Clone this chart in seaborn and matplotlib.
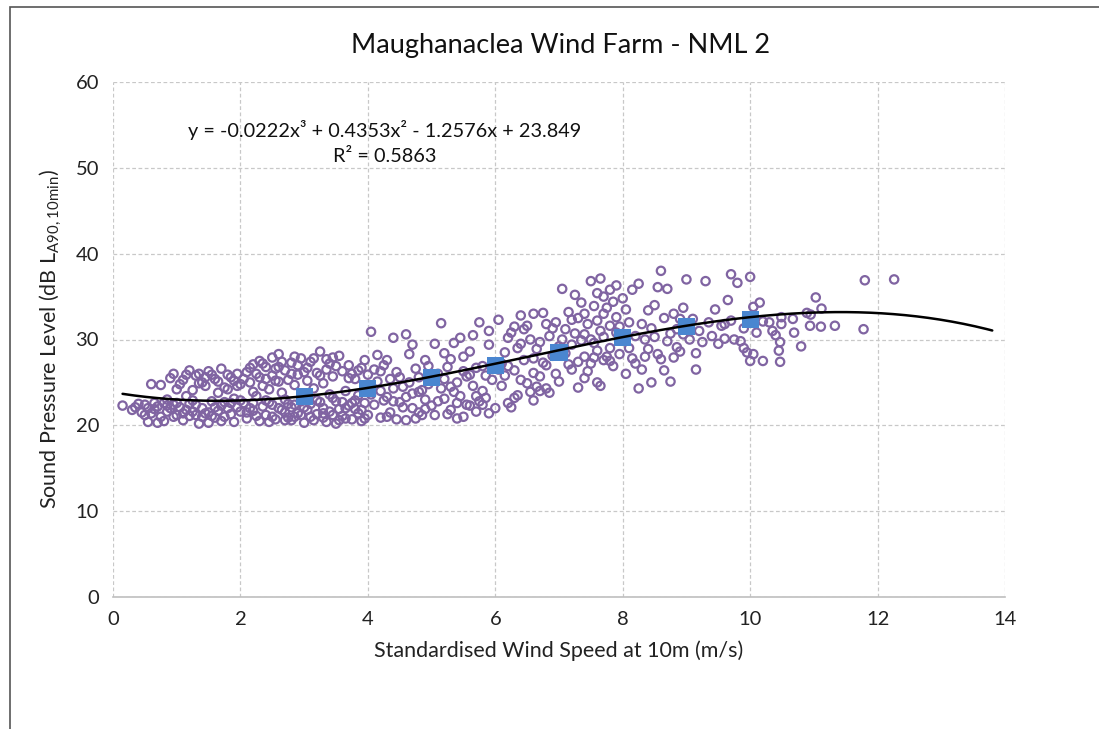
import numpy as np
import pandas as pd
import matplotlib
matplotlib.use("Agg")
import matplotlib.pyplot as plt
import seaborn as sns
from matplotlib.patches import Rectangle

# ---------------- data ----------------
band_a = [(0.15,22.3),(0.3,21.8),(0.35,22.1),(0.45,21.5),(0.5,22.4),(0.55,20.4),(0.6,24.8),(0.65,21.9),
          (0.7,22.2),(0.75,24.7),(0.8,20.5),(0.85,21.6),(0.9,22.0),(0.9,25.5),(0.95,26.0),(1.0,21.2),
          (0.7,20.3),(0.4,22.5),(0.55,22.0),(0.8,22.6),(0.95,21.0),(0.6,21.4),(1.0,24.2),(0.85,23.0)]
band_b = [(1.05,22.1),(1.1,25.3),(1.1,20.6),(1.15,21.8),(1.2,26.4),(1.2,22.5),(1.25,24.1),(1.3,25.8),
          (1.3,21.2),(1.35,20.2),(1.4,25.0),(1.4,22.0),(1.45,24.6),(1.5,26.3),(1.5,21.5),(1.55,22.8),
          (1.6,25.4),(1.6,20.9),(1.65,23.8),(1.7,26.6),(1.7,22.3),(1.75,21.0),(1.8,24.2),(1.8,22.0),
          (1.85,25.6),(1.9,20.4),(1.9,23.1),(1.95,26.0),(2.0,21.6),(2.0,24.8),(1.15,23.4),(1.25,22.9),
          (1.35,24.9),(1.45,21.4),(1.55,25.9),(1.65,21.7),(1.75,24.4),(1.85,22.6),(1.95,22.1),(1.05,24.8),
          (1.5,20.3),(1.3,22.4),(1.7,20.5),(1.9,25.2)]
band_c = [(2.05,22.6),(2.1,26.2),(2.1,20.8),(2.15,25.0),(2.2,21.7),(2.2,27.1),(2.25,23.4),(2.3,20.5),
          (2.3,25.6),(2.35,22.2),(2.4,26.8),(2.4,21.2),(2.45,24.2),(2.5,27.9),(2.5,22.4),(2.55,20.7),
          (2.6,28.3),(2.6,25.1),(2.65,21.8),(2.7,26.4),(2.7,23.0),(2.75,20.9),(2.8,27.3),(2.8,22.1),
          (2.85,24.7),(2.9,25.9),(2.9,21.4),(2.95,27.8),(2.95,22.8),(3.0,20.3),(3.0,26.2),(2.15,22.0),
          (2.25,26.0),(2.35,24.6),(2.45,20.4),(2.55,26.6),(2.65,23.8),(2.75,25.3),(2.85,21.0),(2.05,25.4),
          (2.2,23.9),(2.4,22.9),(2.6,22.0),(2.8,20.6),(2.5,25.8),(2.7,21.5),(2.9,27.0),(2.3,27.5)]
band_d = [(3.05,21.8),(3.1,27.4),(3.1,22.5),(3.15,20.6),(3.2,26.1),(3.2,21.3),(3.25,28.6),(3.3,24.9),
          (3.3,22.0),(3.35,20.4),(3.4,27.2),(3.4,21.6),(3.45,25.7),(3.5,22.8),(3.5,20.2),(3.55,28.1),
          (3.6,26.3),(3.6,21.1),(3.65,24.0),(3.7,22.3),(3.7,27.0),(3.75,20.7),(3.8,25.4),(3.8,21.9),
          (3.85,23.5),(3.9,26.7),(3.9,20.5),(3.95,22.6),(4.0,25.9),(4.0,21.2),(3.15,24.3),(3.25,22.7),
          (3.35,26.5),(3.45,23.2),(3.55,21.9),(3.65,20.8),(3.75,26.0),(3.85,21.4),(3.95,27.6),(3.05,25.2),
          (3.3,20.9),(3.6,22.7),(3.8,22.9),(3.4,23.6)]
band_low_extra = [(0.5,21.2),(0.65,22.6),(0.75,21.0),(0.85,22.3),(1.0,22.6),(1.1,21.4),(1.15,25.9),
                  (1.25,21.6),(1.35,26.0),(1.4,21.0),(1.45,25.6),(1.55,21.1),(1.6,22.1),(1.65,25.1),
                  (1.75,22.7),(1.8,25.9),(1.85,21.3),(1.95,24.6),(2.0,22.9),(2.1,21.5),(2.15,26.7),
                  (2.25,21.1),(2.35,27.2),(2.45,22.7),(2.5,21.0),(2.55,25.2),(2.65,27.4),(2.7,20.6),
                  (2.75,22.5),(2.8,26.0),(2.85,22.4),(2.95,21.2),(3.0,22.1),(3.05,26.7),(3.1,21.0),
                  (3.2,22.9),(3.25,25.8),(3.3,21.4),(3.35,27.7),(3.45,21.2),(3.5,26.9),(3.55,20.6),
                  (3.65,22.0),(3.7,25.5),(3.75,22.6),(3.85,26.4),(3.9,21.8),(3.95,20.8),(2.6,26.8),
                  (2.4,25.4),(2.2,22.6),(1.2,21.1),(0.95,22.4),(3.15,27.8),(3.45,27.9),(2.85,28.0)]
band_e = [(4.05,30.9),(4.1,22.4),(4.15,25.1),(4.2,20.9),(4.25,27.0),(4.3,23.3),(4.35,21.5),(4.4,30.2),
          (4.45,26.2),(4.5,22.7),(4.55,24.5),(4.6,30.6),(4.6,20.6),(4.65,28.3),(4.7,22.0),(4.75,26.6),
          (4.8,23.9),(4.85,21.2),(4.9,27.6),(4.95,24.8),(5.0,22.3),(4.1,26.5),(4.2,24.0),(4.3,21.0),
          (4.4,22.8),(4.5,25.6),(4.7,29.4),(4.8,21.5),(4.9,23.0),(4.15,28.2),(4.35,25.4),(4.55,22.1),
          (4.75,20.8),(4.95,26.9),(4.45,20.7),(4.65,25.0),(4.85,24.1),(4.25,22.9),(4.05,23.6),
          (4.2,26.3),(4.4,24.3),(4.6,23.3),(4.8,25.6),(4.3,27.6),(4.7,23.7),(4.9,21.9)]
band_f = [(5.05,29.5),(5.1,22.8),(5.15,31.9),(5.2,25.4),(5.25,21.3),(5.3,27.7),(5.35,23.9),(5.4,20.8),
          (5.45,30.2),(5.5,26.3),(5.55,22.4),(5.6,28.6),(5.65,24.6),(5.7,21.6),(5.75,32.0),(5.8,26.9),
          (5.85,23.2),(5.9,29.4),(5.95,25.3),(6.0,22.0),(5.1,26.0),(5.2,23.1),(5.3,21.8),(5.4,25.0),
          (5.5,28.0),(5.6,22.3),(5.7,26.7),(5.8,24.0),(5.9,21.4),(5.15,24.3),(5.35,29.6),(5.55,25.7),
          (5.75,22.8),(5.95,27.2),(5.25,26.8),(5.45,23.4),(5.65,30.5),(5.85,25.8),(5.05,21.2),(5.5,21.0),
          (5.9,31.0),(5.2,28.4),(5.4,22.6),(5.6,25.9),(5.8,22.4),(5.3,24.5),(5.7,23.4)]
band_g = [(6.05,32.3),(6.1,24.6),(6.15,28.5),(6.2,22.6),(6.25,30.8),(6.3,26.4),(6.35,23.5),(6.4,32.8),
          (6.45,27.6),(6.5,24.9),(6.55,30.0),(6.6,22.9),(6.65,28.9),(6.7,25.7),(6.75,33.1),(6.8,27.0),
          (6.85,23.8),(6.9,31.3),(6.95,26.0),(7.0,29.2),(6.1,27.2),(6.2,30.2),(6.3,23.2),(6.4,25.3),
          (6.5,31.6),(6.6,26.1),(6.7,29.7),(6.8,24.3),(6.9,28.1),(6.15,25.8),(6.35,29.0),(6.55,23.9),
          (6.75,27.3),(6.95,32.0),(6.25,22.1),(6.45,31.2),(6.65,24.5),(6.85,30.4),(6.05,26.5),(6.6,33.0),
          (7.0,25.1),(6.2,26.9),(6.4,29.5),(6.6,27.8),(6.8,31.8),(6.3,31.5),(6.7,24.0)]
band_h = [(7.05,35.9),(7.1,28.4),(7.15,33.2),(7.2,26.5),(7.25,30.7),(7.3,24.4),(7.35,34.3),(7.4,28.0),
          (7.45,31.8),(7.5,27.2),(7.5,36.8),(7.55,29.6),(7.6,35.4),(7.6,25.0),(7.65,37.1),(7.7,30.3),
          (7.7,27.6),(7.75,33.7),(7.8,29.0),(7.8,35.8),(7.85,26.9),(7.9,32.6),(7.95,28.3),(8.0,34.8),
          (7.1,31.2),(7.2,29.4),(7.3,32.5),(7.4,25.5),(7.5,30.0),(7.6,32.2),(7.7,35.0),(7.8,27.5),
          (7.9,30.8),(7.15,27.1),(7.35,29.9),(7.55,33.9),(7.75,28.0),(7.95,31.5),(7.25,35.2),(7.45,26.3),
          (7.65,31.0),(7.85,34.4),(7.05,30.0),(7.4,33.0),(7.55,27.9),(7.9,36.3),(7.65,24.6),
          (7.2,32.3),(7.4,30.6),(7.6,28.7),(7.8,31.6),(7.3,27.4),(7.7,33.0)]
band_i = [(8.05,33.5),(8.1,29.0),(8.15,35.8),(8.2,27.2),(8.25,24.3),(8.3,31.8),(8.35,28.0),(8.4,33.4),
          (8.45,25.0),(8.5,30.3),(8.55,36.1),(8.6,38.0),(8.6,27.7),(8.65,32.5),(8.7,29.8),(8.75,25.1),
          (8.8,33.0),(8.85,31.2),(8.9,28.6),(8.95,30.6),(9.0,37.0),(8.1,32.0),(8.2,30.4),(8.3,26.5),
          (8.4,28.9),(8.5,34.0),(8.7,35.9),(8.8,27.9),(8.9,32.4),(8.15,27.8),(8.35,30.0),(8.55,28.3),
          (8.75,30.7),(8.25,36.5),(8.45,31.3),(8.65,26.4),(8.85,29.1),(8.05,26.0),(8.95,33.7)]
band_j = [(9.05,30.0),(9.1,32.4),(9.15,28.4),(9.2,31.0),(9.25,29.7),(9.3,36.8),(9.35,32.0),(9.4,30.4),
          (9.45,33.5),(9.5,29.5),(9.55,31.6),(9.6,30.1),(9.65,34.6),(9.7,37.6),(9.7,32.2),(9.75,30.0),
          (9.8,36.6),(9.85,29.8),(9.9,31.3),(9.95,28.5),(10.0,27.5),(10.0,37.3),(10.05,33.8),(10.1,30.8),
          (10.15,34.3),(10.2,32.1),(10.2,27.5),(9.9,29.0),(10.05,28.3),(9.15,26.5),(9.6,31.8)]
band_k = [(10.3,32.0),(10.35,31.0),(10.4,30.5),(10.45,28.7),(10.47,27.4),(10.47,29.7),(10.49,31.8),
          (10.49,32.6),(10.67,32.4),(10.69,30.8),(10.8,29.2),(10.89,33.1),(10.94,31.6),(10.95,32.9),
          (11.03,34.9),(11.11,31.5),(11.12,33.6),(11.33,31.6),(11.78,31.2),(11.8,36.9),(12.26,37.0)]

bin_speed = [3, 4, 5, 6, 7, 8, 9, 10]
bin_level = [23.4, 24.3, 25.6, 27.0, 28.5, 30.2, 31.5, 32.3]

trend_coef = [-0.0222, 0.4353, -1.2576, 23.849]   # from the chart's equation label
trend_range = (0.15, 13.8)

x_ticks = [0, 2, 4, 6, 8, 10, 12, 14]
y_ticks = [0, 10, 20, 30, 40, 50, 60]

title = "Maughanaclea Wind Farm - NML 2"
xlabel = "Standardised Wind Speed at 10m (m/s)"
ylabel = r"Sound Pressure Level (dB L$_{\mathregular{A90,10min}}$)"
eq_text = "y = -0.0222x³ + 0.4353x² - 1.2576x + 23.849"
r2_text = "R² = 0.5863"

# ---------------- build frames ----------------
pts = (band_a + band_b + band_c + band_d + band_low_extra + band_e + band_f + band_g
       + band_h + band_i + band_j + band_k)
scatter_df = pd.DataFrame(pts, columns=["speed", "level"])
bins_df = pd.DataFrame({"speed": bin_speed, "level": bin_level})
tx = np.linspace(trend_range[0], trend_range[1], 300)
trend_df = pd.DataFrame({"speed": tx, "level": np.polyval(trend_coef, tx)})

# ---------------- plot ----------------
sns.set_theme(style="white")
plt.rcParams["font.family"] = ["Lato", "DejaVu Sans"]
plt.rcParams["mathtext.fontset"] = "custom"
plt.rcParams["mathtext.rm"] = "Lato"

fig = plt.figure(figsize=(10.99, 7.29), dpi=100)
ax = fig.add_axes([113/1099, 1-597/729, (1005-113)/1099, (597-82)/729])

sns.scatterplot(data=scatter_df, x="speed", y="level", ax=ax, marker="o",
                facecolors="none", edgecolor="#8064A2", linewidth=1.6, s=36, zorder=3)
sns.scatterplot(data=bins_df, x="speed", y="level", ax=ax, marker="s",
                color="#4A86D0", edgecolor="none", s=150, zorder=4)
sns.lineplot(data=trend_df, x="speed", y="level", ax=ax, color="black", linewidth=1.8, zorder=5)

ax.set_xlim(0, 14)
ax.set_ylim(0, 60)
ax.set_xticks(x_ticks)
ax.set_yticks(y_ticks)
ax.grid(True, color="#c8c8c8", linestyle=(0, (3, 2)), linewidth=0.9)
ax.set_axisbelow(True)
for s in ["top", "right", "left"]:
    ax.spines[s].set_visible(False)
ax.spines["bottom"].set_color("#bfbfbf")
ax.spines["bottom"].set_linewidth(1.2)
ax.tick_params(axis="both", length=0, labelsize=14.5, colors="#222222", pad=10)

ax.set_xlabel(xlabel, fontsize=15.5, color="#222222", labelpad=9)
ax.set_ylabel(ylabel, fontsize=15.5, color="#222222", labelpad=8)

fig.text(561/1099, 1-45/729, title, ha="center", va="center", fontsize=19.5, color="#111111")
ax.text(4.27, 54.4, eq_text, ha="center", va="center", fontsize=14.3, color="#111111")
ax.text(4.27, 51.3, r2_text, ha="center", va="center", fontsize=14.3, color="#111111")

fig.patches.append(Rectangle((10/1099, -0.05), 1.2, 1-7/729+0.05, transform=fig.transFigure,
                             fill=False, edgecolor="#555555", linewidth=1.2))

fig.savefig("out.png", dpi=100, facecolor="white")
